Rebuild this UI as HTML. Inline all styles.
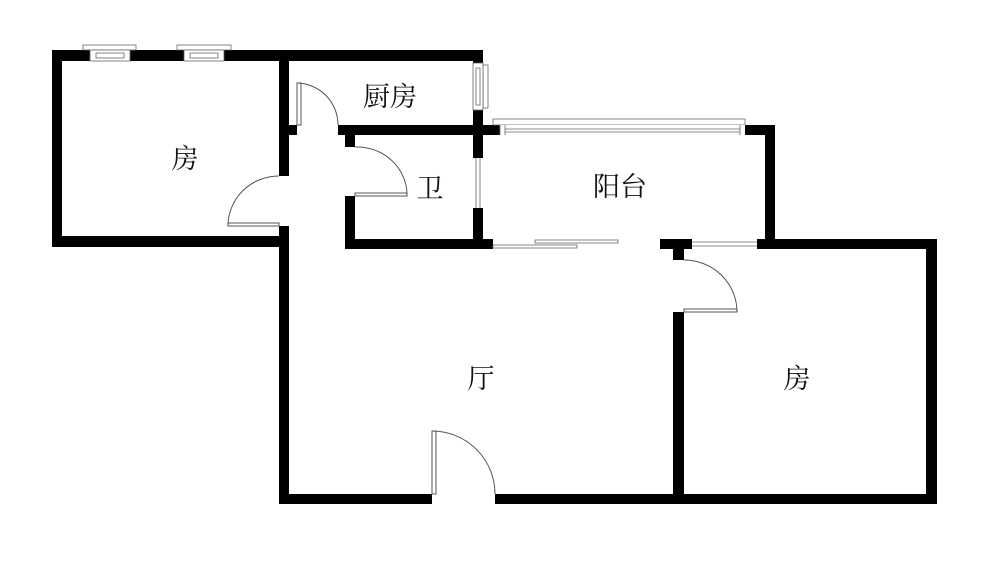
<!DOCTYPE html>
<html><head><meta charset="utf-8"><style>
html,body{margin:0;padding:0;background:#fff;}
svg{display:block;}
text{font-family:"Liberation Serif","Noto Serif CJK SC",serif;font-size:27px;fill:#111;}
</style></head><body>
<svg width="1000" height="567" viewBox="0 0 1000 567" xmlns="http://www.w3.org/2000/svg">
<g fill="#000">
<rect x="52" y="50" width="431" height="11"/>
<rect x="52" y="50" width="10" height="197"/>
<rect x="52" y="236" width="237" height="11"/>
<rect x="279" y="50" width="10" height="126"/>
<rect x="279" y="226" width="10" height="278"/>
<rect x="473" y="50" width="10" height="13"/>
<rect x="473" y="110" width="10" height="48"/>
<rect x="279" y="125" width="18" height="10"/>
<rect x="338" y="125" width="162" height="10"/>
<rect x="345" y="135" width="10" height="12"/>
<rect x="345" y="196" width="10" height="53"/>
<rect x="345" y="239" width="148" height="10"/>
<rect x="473" y="208" width="10" height="41"/>
<rect x="745" y="125" width="30" height="10"/>
<rect x="765" y="125" width="10" height="124"/>
<rect x="660" y="239" width="32" height="10"/>
<rect x="757" y="239" width="180" height="10"/>
<rect x="926" y="239" width="11" height="265"/>
<rect x="673" y="249" width="11" height="11"/>
<rect x="673" y="312" width="11" height="192"/>
<rect x="279" y="494" width="153" height="10"/>
<rect x="495" y="494" width="442" height="10"/>
</g>
<g fill="#fff" stroke="#666" stroke-width="0.8">
<rect x="83" y="45" width="53" height="5"/><rect x="90" y="50" width="40" height="11"/>
<rect x="96" y="53" width="28" height="5"/>
<rect x="177" y="45" width="54" height="5"/><rect x="184" y="50" width="40" height="11"/>
<rect x="190" y="53" width="28" height="5"/>
<rect x="483" y="65" width="5" height="43"/><rect x="473" y="63" width="10" height="47"/>
<rect x="476" y="68" width="4" height="37"/>
<rect x="473" y="158" width="10" height="50" stroke="none"/>
<line x1="476" y1="158" x2="476" y2="208"/><line x1="480" y1="158" x2="480" y2="208"/>
<rect x="493" y="119" width="252" height="6"/>
<rect x="500" y="125" width="245" height="10" stroke="none"/>
<line x1="500" y1="125" x2="500" y2="135"/><line x1="505" y1="125" x2="505" y2="135"/>
<line x1="740" y1="125" x2="740" y2="135"/>
<line x1="505" y1="129" x2="740" y2="129"/><line x1="505" y1="132" x2="740" y2="132"/>
<rect x="493" y="245" width="84" height="3"/>
<rect x="535" y="240" width="83" height="3"/>
<line x1="692" y1="242" x2="757" y2="242"/><line x1="692" y1="246" x2="757" y2="246"/>
</g>
<g fill="none" stroke="#555" stroke-width="1">
<rect x="297" y="83" width="4" height="42"/>
<path d="M297 83 A42 42 0 0 1 338 125"/>
<rect x="355" y="193" width="52" height="3"/>
<path d="M355 147 A50 48 0 0 1 407 195"/>
<rect x="228" y="223" width="51" height="3"/>
<path d="M228 226 A51 50 0 0 1 279 176"/>
<rect x="684" y="309" width="53" height="3"/>
<path d="M684 260 A53 52 0 0 1 737 312"/>
<rect x="432" y="431" width="4" height="63"/>
<path d="M432 431 A63 63 0 0 1 495 494"/>
</g>
<text x="185" y="168" text-anchor="middle">房</text>
<text x="390" y="106" text-anchor="middle">厨房</text>
<text x="430" y="198" text-anchor="middle">卫</text>
<text x="620" y="196" text-anchor="middle">阳台</text>
<text x="481" y="388" text-anchor="middle">厅</text>
<text x="797" y="388" text-anchor="middle">房</text>
</svg>
</body></html>
